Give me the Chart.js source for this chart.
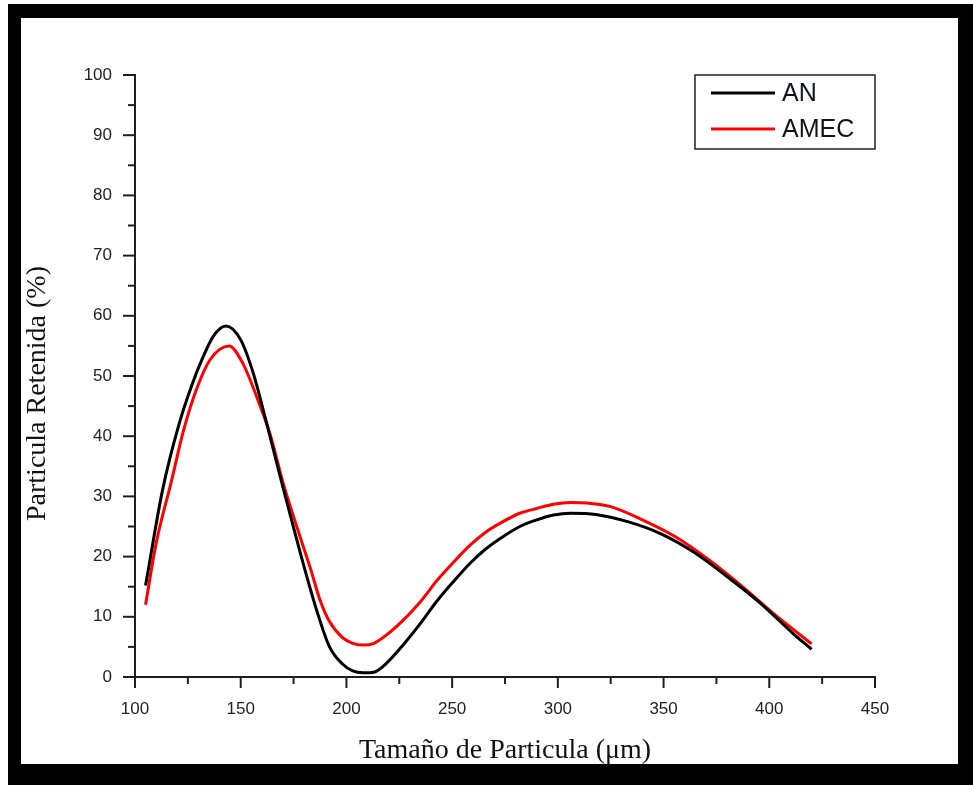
<!DOCTYPE html>
<html>
<head>
<meta charset="utf-8">
<title>Particula Retenida</title>
<script src="https://cdn.jsdelivr.net/npm/chart.js@4/dist/chart.umd.min.js"></script>
<style>
  html, body { margin: 0; padding: 0; background: #fff; }
  #frame { position: absolute; left: 8px; top: 4px; width: 965px; height: 781px; background: #000; }
  #paper { position: absolute; left: 21px; top: 18px; width: 937px; height: 746px; background: #fff; }
  #myChart { position: absolute; left: 0; top: 0; }
</style>
</head>
<body>
<div id="frame"></div>
<div id="paper"></div>
<canvas id="myChart" width="973" height="785"></canvas>
<script>
// AN series (size in um, retained %)
const anSize = [105, 113, 121, 127, 132, 137, 143, 150, 156, 161.5, 165.5, 170, 176, 181, 186, 192, 198, 203, 208, 213, 219, 227, 235, 243, 251, 258.5, 266, 274, 282, 290, 298, 306, 318, 333, 348, 364, 380, 396, 411, 420];
const anValue = [15.2, 31.0, 42.2, 48.6, 53.0, 56.6, 58.3, 56.0, 50.4, 43.2, 37.7, 31.5, 23.5, 17.0, 11.0, 5.0, 2.2, 1.0, 0.7, 0.8, 2.3, 5.4, 8.9, 12.7, 16.0, 18.9, 21.3, 23.3, 25.0, 26.1, 26.9, 27.2, 27.0, 25.8, 23.9, 20.8, 16.7, 12.2, 7.3, 4.6];

// AMEC series
const amecSize = [105, 110, 117, 123, 129, 135.5, 144.5, 151, 157.5, 164, 170, 176.5, 183, 187.5, 192, 198, 203, 208, 213, 219, 227, 235, 243, 251, 258.5, 266, 274, 282, 290, 298, 306, 314, 325, 340, 356, 372, 388, 403.5, 420];
const amecValue = [12.0, 22.2, 32.2, 41.0, 47.7, 52.7, 55.0, 52.1, 46.6, 40.2, 32.3, 25.0, 18.0, 12.8, 9.2, 6.6, 5.6, 5.3, 5.6, 7.0, 9.5, 12.5, 16.1, 19.2, 21.9, 24.1, 25.8, 27.2, 28.0, 28.7, 29.0, 28.9, 28.3, 26.1, 23.2, 19.3, 14.8, 10.1, 5.5];

const seriesNames = ["AN", "AMEC"];
const seriesColors = ["#000000", "#ff0000"];

const xTitle = "Tamaño de Particula (μm)";
const yTitle = "Particula Retenida (%)";

const axisColor = "#1e1e1e";
const tickFont = { family: "'Liberation Sans', Arial, sans-serif", size: 17 };
const titleFont = { family: "'Liberation Serif', 'Times New Roman', serif", size: 28 };

function toPoints(xs, ys) {
  return xs.map((x, i) => ({ x: x, y: ys[i] }));
}

// outward tick marks, long on labelled values and short halfway between
const tickMarks = {
  id: "tickMarks",
  afterDraw(chart) {
    const ctx = chart.ctx;
    const xs = chart.scales.x;
    const ys = chart.scales.y;
    ctx.save();
    ctx.strokeStyle = axisColor;
    ctx.lineWidth = 2;

    const xv = xs.ticks.map(t => t.value);
    for (let i = 0; i < xv.length; i++) {
      let px = xs.getPixelForValue(xv[i]);
      ctx.beginPath();
      ctx.moveTo(px, ys.bottom);
      ctx.lineTo(px, ys.bottom + 11);
      ctx.stroke();
      if (i < xv.length - 1) {
        let mx = xs.getPixelForValue((xv[i] + xv[i + 1]) / 2);
        ctx.beginPath();
        ctx.moveTo(mx, ys.bottom);
        ctx.lineTo(mx, ys.bottom + 7);
        ctx.stroke();
      }
    }

    const yv = ys.ticks.map(t => t.value);
    for (let i = 0; i < yv.length; i++) {
      let py = ys.getPixelForValue(yv[i]);
      ctx.beginPath();
      ctx.moveTo(xs.left, py);
      ctx.lineTo(xs.left - 12, py);
      ctx.stroke();
      if (i < yv.length - 1) {
        let my = ys.getPixelForValue((yv[i] + yv[i + 1]) / 2);
        ctx.beginPath();
        ctx.moveTo(xs.left, my);
        ctx.lineTo(xs.left - 7, my);
        ctx.stroke();
      }
    }
    ctx.restore();
  }
};

// boxed legend in the top right corner of the plot
const boxLegend = {
  id: "boxLegend",
  afterDraw(chart) {
    const ctx = chart.ctx;
    const area = chart.chartArea;
    const w = 180, h = 74;
    const left = area.right - w;
    const top = area.top;
    ctx.save();
    ctx.strokeStyle = "#222";
    ctx.lineWidth = 1.5;
    ctx.strokeRect(left, top, w, h);
    ctx.font = "25px 'Liberation Sans', Arial, sans-serif";
    ctx.textBaseline = "middle";
    ctx.fillStyle = "#111122";
    chart.data.datasets.forEach((ds, i) => {
      let y = top + 18 + i * 36;
      ctx.strokeStyle = ds.borderColor;
      ctx.lineWidth = 3;
      ctx.beginPath();
      ctx.moveTo(left + 16, y);
      ctx.lineTo(left + 80, y);
      ctx.stroke();
      ctx.fillText(ds.label, left + 87, y + 1);
    });
    ctx.restore();
  }
};

new Chart("myChart", {
  type: "line",
  data: {
    datasets: [
      {
        label: seriesNames[0],
        data: toPoints(anSize, anValue),
        borderColor: seriesColors[0],
        borderWidth: 3,
        pointRadius: 0,
        fill: false,
        cubicInterpolationMode: "monotone",
      },
      {
        label: seriesNames[1],
        data: toPoints(amecSize, amecValue),
        borderColor: seriesColors[1],
        borderWidth: 3,
        pointRadius: 0,
        fill: false,
        cubicInterpolationMode: "monotone",
      },
    ],
  },
  options: {
    responsive: false,
    animation: false,
    devicePixelRatio: 1,
    layout: { padding: { left: 21, top: 75, right: 98, bottom: 18 } },
    plugins: {
      legend: { display: false },
      tooltip: { enabled: false },
    },
    scales: {
      x: {
        type: "linear",
        min: 100,
        max: 450,
        afterFit: (scale) => { scale.height = 90; },
        ticks: { stepSize: 50, padding: 22, color: "#222", font: tickFont, maxRotation: 0 },
        grid: { display: false, drawTicks: false },
        border: { display: true, color: axisColor, width: 2 },
        title: { display: true, text: xTitle, color: "#111", font: titleFont, padding: 0 },
      },
      y: {
        min: 0,
        max: 100,
        afterFit: (scale) => { scale.width = 114; },
        ticks: { stepSize: 10, padding: 23, color: "#222", font: tickFont },
        grid: { display: false, drawTicks: false },
        border: { display: true, color: axisColor, width: 2 },
        title: { display: true, text: yTitle + "     ", color: "#111", font: titleFont, padding: 0 },
      },
    },
  },
  plugins: [tickMarks, boxLegend],
});
</script>
</body>
</html>
